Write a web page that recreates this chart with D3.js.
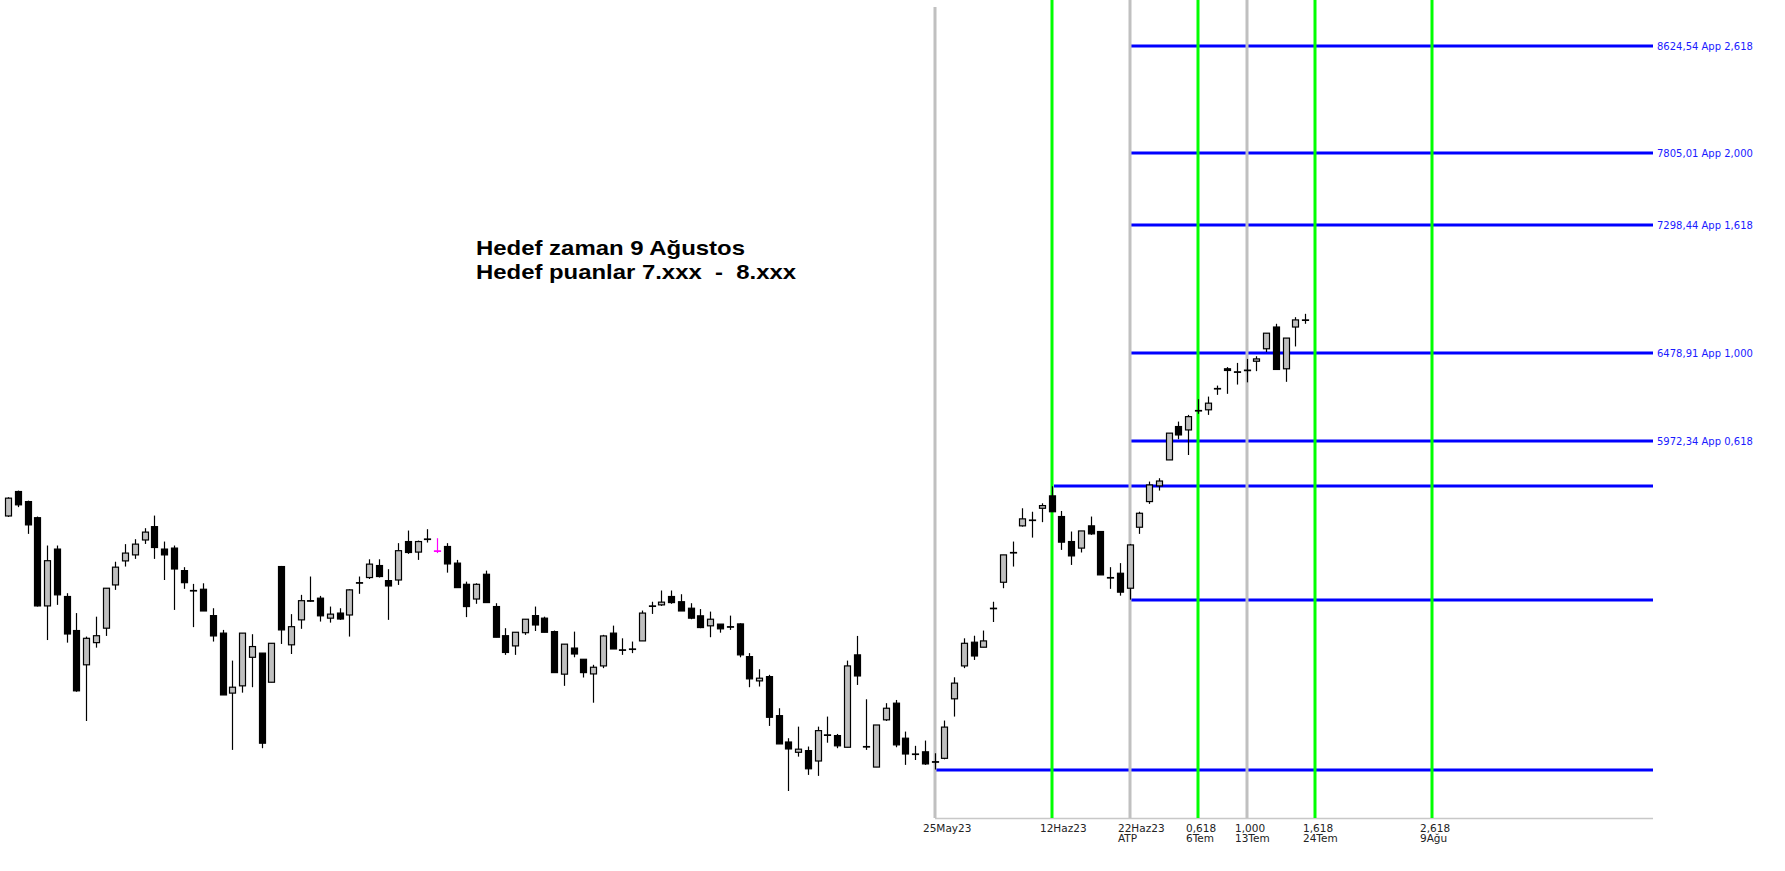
<!DOCTYPE html>
<html><head><meta charset="utf-8">
<script src="https://cdn.jsdelivr.net/npm/d3@7"></script>
<style>html,body{margin:0;padding:0;background:#fff;overflow:hidden}</style>
</head><body><svg id="chart" width="1785" height="871"></svg>
<script>
// ---- candle data (bar index order) ----
const openVals = [5570,5698,5645,5561,5123,5401,5168,5007,4850,4951,5018,5224,5342,5372,5447,5515,5401,5406,5294,5197,
5203,5077,4995,4724,4756,4884,4903,4772,5314,4941,5057,5148,5160,5065,5089,5080,5235,5260,5319,5245,
5248,5439,5386,5452,5392,5414,5331,5227,5156,5276,5120,4983,4936,4997,5077,5065,5002,4808,4926,4875,
4809,4845,4995,4918,4922,4959,5123,5128,5168,5143,5112,5076,5029,5037,5025,5038,4887,4778,4797,4626,
4514,4471,4478,4435,4544,4541,4492,4895,4495,4410,4608,4680,4530,4464,4473,4432,4446,4699,4845,4953,
4930,5112,5237,5384,5519,5549,5610,5675,5567,5439,5406,5519,5490,5260,5281,5208,5512,5645,5728,5868,
6053,6034,6144,6148,6271,6387,6369,6379,6432,6507,6640,6387,6640,6684];
const highVals = [5668,5703,5650,5567,5419,5419,5184,5089,4979,5072,5208,5338,5426,5451,5507,5572,5439,5419,5311,5229,
5232,5112,5010,4869,4995,4990,4903,4948,5317,5084,5176,5265,5171,5120,5112,5203,5265,5350,5350,5301,
5431,5495,5444,5502,5456,5431,5347,5240,5232,5294,5136,5018,4999,5060,5120,5072,5007,4944,5002,4875,
4850,4987,5030,4971,4956,5101,5143,5197,5197,5179,5136,5108,5096,5037,5077,5041,4903,4830,4805,4658,
4530,4579,4495,4579,4622,4548,4869,4982,4697,4586,4680,4694,4558,4498,4520,4467,4605,4794,4971,4983,
5007,5143,5372,5439,5610,5592,5636,5726,5596,5490,5493,5567,5490,5311,5331,5427,5592,5751,5769,6016,
6081,6119,6209,6224,6288,6397,6422,6446,6462,6602,6660,6572,6701,6722];
const lowVals = [5565,5616,5478,5120,4963,5128,4951,4730,4603,4928,4982,5200,5314,5352,5427,5352,5248,5104,5205,5023,
5099,4956,4716,4481,4726,4750,4488,4772,4945,4899,5015,5143,5049,5044,5057,4979,5181,5253,5260,5057,
5224,5377,5347,5434,5381,5284,5211,5070,5133,5139,4976,4895,4895,4987,5005,4999,4815,4756,4884,4793,
4682,4835,4922,4895,4903,4959,5085,5123,5133,5099,5060,5018,4976,4997,5010,4884,4750,4753,4582,4506,
4313,4453,4378,4374,4511,4488,4492,4760,4481,4410,4603,4492,4419,4439,4419,4400,4442,4622,4835,4872,
4930,5047,5208,5314,5515,5459,5538,5592,5397,5322,5384,5473,5273,5205,5172,5153,5478,5633,5703,5868,
5982,5895,6125,6119,6234,6240,6294,6307,6373,6487,6383,6310,6521,6660];
const closeVals = [5663,5628,5524,5123,5343,5176,4991,4734,4971,4983,5208,5311,5381,5426,5487,5409,5372,5302,5235,5197,
5099,4982,4716,4750,4995,4933,4509,4948,5010,5025,5148,5148,5076,5084,5061,5200,5235,5326,5265,5219,
5393,5384,5439,5452,5392,5327,5211,5120,5227,5139,4976,4906,4999,5060,5033,4999,4815,4944,4899,4815,
4839,4982,4922,4918,4922,5089,5123,5141,5139,5099,5065,5021,5060,5015,5025,4895,4787,4790,4619,4506,
4485,4484,4403,4562,4544,4498,4845,4800,4495,4586,4658,4502,4464,4464,4423,4432,4577,4768,4948,4890,
4959,5112,5372,5384,5555,5549,5624,5592,5436,5367,5493,5478,5273,5260,5189,5422,5584,5733,5754,6016,
6006,6109,6144,6186,6271,6377,6369,6379,6446,6602,6383,6572,6684,6684];
const markedBar = 44;

// ---- Fibonacci pivots (bar index, price) ----
const pivotNames = ["A", "B", "C"];
const pivotBars = [95, 107, 115];
const pivotValues = [4400.0, 5726.1, 5152.8];

// ---- projected price levels ----
const levelValues = [5972.34, 6478.91, 7298.44, 7805.01, 8624.54];
const levelRatios = ["0,618", "1,000", "1,618", "2,000", "2,618"];

// ---- time marks ----
const timeBars = [95, 107, 115, 122, 127, 134, 146];
const timeTop = ["25May23", "12Haz23", "22Haz23", "0,618", "1,000", "1,618", "2,618"];
const timeBottom = ["", "", "ATP", "6Tem", "13Tem", "24Tem", "9Ağu"];
const timeKind = ["base", "pivot", "base", "proj", "base", "proj", "proj"];

// ---- note ----
const noteLines = ["Hedef zaman 9 Ağustos", "Hedef puanlar 7.xxx  -  8.xxx"];

// ---- layout ----
const W = 1785, H = 871;
const axisY = 818, lineRightX = 1653;
const svg = d3.select("#chart");
const x = d3.scaleLinear().domain([0, 146]).range([8, 1432]);
const y = d3.scaleLog().domain([4000, 9000]).range([872, 0]);
const px = i => Math.round(x(i));

// horizontal blue lines
const hLines = [];
pivotBars.forEach((b, k) => hLines.push({x0: px(b) + (k === 1 ? 2 : 0), v: pivotValues[k]}));
levelValues.forEach(v => hLines.push({x0: px(pivotBars[2]) + 1, v}));
svg.append("g").selectAll("line").data(hLines).join("line")
  .attr("x1", d => d.x0).attr("x2", lineRightX)
  .attr("y1", d => Math.round(y(d.v))).attr("y2", d => Math.round(y(d.v)))
  .attr("stroke", "#0000ff").attr("stroke-width", 3);

// level labels
svg.append("g").selectAll("text").data(levelValues).join("text")
  .attr("x", lineRightX + 4).attr("y", d => Math.round(y(d)) + 3.5)
  .attr("font-family", "DejaVu Sans").attr("font-size", 10)
  .attr("fill", "#1a1aff")
  .text((d, i) => d.toFixed(2).replace(".", ",") + " App " + levelRatios[i]);

// baseline axis
svg.append("line").attr("x1", px(timeBars[0])).attr("x2", lineRightX)
  .attr("y1", axisY + 0.5).attr("y2", axisY + 0.5)
  .attr("stroke", "#c8c8c8").attr("stroke-width", 1.5);

// vertical lines
svg.append("g").selectAll("line").data(timeBars).join("line")
  .attr("x1", d => px(d)).attr("x2", d => px(d))
  .attr("y1", (d, i) => i === 0 ? 7 : 0).attr("y2", axisY)
  .attr("stroke", (d, i) => timeKind[i] === "base" ? "#c0c0c0" : "#00ff00")
  .attr("stroke-width", 3);

// time labels
const tl = svg.append("g").attr("font-family", "DejaVu Sans").attr("font-size", 10.5).attr("fill", "#222");
tl.selectAll("text.t1").data(timeBars).join("text").attr("class", "t1")
  .attr("x", d => px(d) - 12).attr("y", 831.5).text((d, i) => timeTop[i]);
tl.selectAll("text.t2").data(timeBars).join("text").attr("class", "t2")
  .attr("x", d => px(d) - 12).attr("y", 841.5).text((d, i) => timeBottom[i]);

// candles
const idx = d3.range(openVals.length);
const cg = svg.append("g");
const colFor = i => i === markedBar ? "#ff00ff" : "#000";
cg.selectAll("line").data(idx).join("line")
  .attr("x1", i => px(i) + 0.5).attr("x2", i => px(i) + 0.5)
  .attr("y1", i => y(highVals[i])).attr("y2", i => y(lowVals[i]))
  .attr("stroke", colFor).attr("stroke-width", 1.2);
cg.selectAll("rect").data(idx).join("rect")
  .attr("x", i => px(i) - 2.5).attr("width", 6)
  .attr("y", i => y(Math.max(openVals[i], closeVals[i])))
  .attr("height", i => Math.max(0.5, Math.abs(y(openVals[i]) - y(closeVals[i]))))
  .attr("fill", i => i === markedBar ? "#ff00ff" : (closeVals[i] > openVals[i] ? "#c0c0c0" : "#000"))
  .attr("stroke", colFor).attr("stroke-width", 1.2);

// note text
svg.append("g").selectAll("text").data(noteLines).join("text")
  .attr("x", 476).attr("y", (d, i) => 254.5 + i * 24)
  .attr("font-family", "Liberation Sans, Arial, sans-serif").attr("font-weight", "bold")
  .attr("font-size", 21).attr("fill", "#000")
  .attr("xml:space", "preserve").style("white-space", "pre")
  .attr("textLength", (d, i) => i === 0 ? 269 : 320).attr("lengthAdjust", "spacingAndGlyphs")
  .text(d => d);
</script></body></html>
